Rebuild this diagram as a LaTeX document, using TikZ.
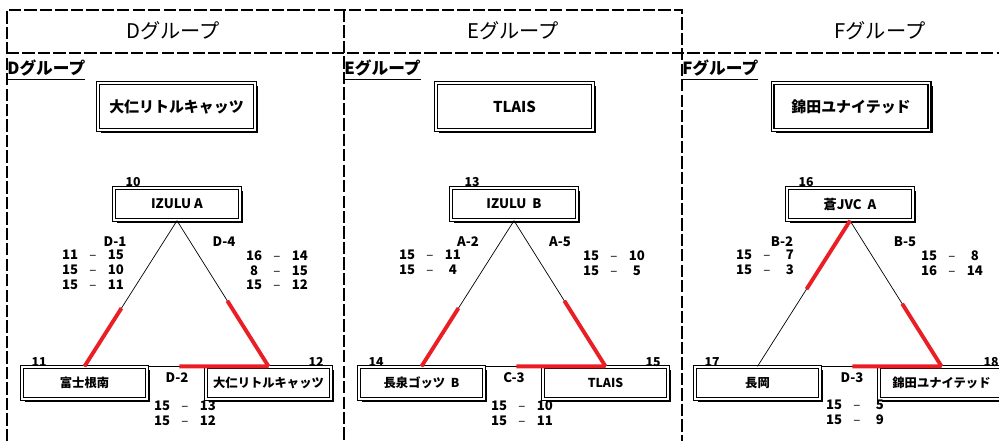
\documentclass[tikz,border=0pt]{standalone}
\usepackage{fontspec}
\setmainfont{Noto Sans CJK JP}
\usetikzlibrary{calc,shadows}
\definecolor{winred}{RGB}{234,30,37}
\tikzset{
  line cap=round,
  line join=round,
  frame/.style={line width=1.2pt, dash pattern=on 7pt off 1.8pt, line cap=butt},
  bighead/.style={font=\fontsize{11.5}{13}\selectfont, inner sep=0pt},
  subhead/.style={font=\bfseries\fontsize{9.5}{11}\selectfont, anchor=west, inner sep=0pt},
  teambox/.style={draw, fill=white, line width=0.75pt, double distance=0.8pt, inner sep=0pt,
    general shadow={fill=black, shadow xshift=1.9pt, shadow yshift=-1.9pt}},
  seedbox/.style={teambox, minimum width=3.14cm, minimum height=0.94cm, font=\bfseries\fontsize{8.5}{10}\selectfont},
  topbox/.style={teambox, minimum width=2.52cm, minimum height=0.64cm, font=\bfseries\fontsize{7.5}{9}\selectfont},
  botbox/.style={teambox, minimum width=2.5cm, minimum height=0.64cm, font=\bfseries\fontsize{7}{8}\selectfont},
  num/.style={font=\bfseries\fontsize{7}{8}\selectfont, inner sep=0pt},
  match/.style={font=\bfseries\fontsize{7.5}{8}\selectfont, inner sep=0pt},
  scores/.style={font=\bfseries\fontsize{7.5}{8.5}\selectfont, align=center, inner sep=0pt, anchor=north},
  edge/.style={line width=0.4pt},
  bar/.style={line width=0.9pt},
  win/.style={draw=winred, line width=2.2pt, line cap=butt}
}
\newcommand{\scoreline}[2]{\makebox[13pt]{#1}\makebox[13pt]{\mdseries –}\makebox[13pt]{#2}}

\begin{document}
\begin{tikzpicture}[x=0.02cm, y=-0.02cm]
    \useasboundingbox (0,0) rectangle (999,441);

    % 枠線
    \draw[frame] (7,441) -- (7,10) -- (682,10) -- (682,441);
    \draw[frame] (344,10) -- (344,441);
    \draw[frame] (7,53) -- (999,53);

    % 見出し
    \node[bighead] (hD) at (173,31) {Dグループ};
    \node[bighead] (hE) at (513,31) {Eグループ};
    \node[bighead] (hF) at (880,31) {Fグループ};

    % Dグループ
    \begin{scope}
    \node[subhead] (subD) at (7,70) {\underline{Dグループ}};
    \node[seedbox] (seedD) at (176.5,106.5) {大仁リトルキャッツ};
    \node[topbox] (topD) at (177,204) {IZULU A};
    \node[botbox] (lboxD) at (84.5,383) {富士根南};
    \node[botbox] (rboxD) at (268.5,383) {大仁リトルキャッツ};
    \node[num] (n10) at (133,182) {10};
    \node[num] (n11) at (39,362) {11};
    \node[num] (n12) at (316,362) {12};
    \draw[edge] (topD.south) -- (lboxD.north);
    \draw[edge] (topD.south) -- (rboxD.north);
    \draw[bar] (lboxD.north east) -- (rboxD.north west);
    \draw[win] ($(topD.south)!0.6!(lboxD.north)$) -- (lboxD.north);
    \draw[win] ($(topD.south)!0.55!(rboxD.north)$) -- (rboxD.north);
    \draw[win] ($(lboxD.north east)!0.55!(rboxD.north west)$) -- (rboxD.north);
    \node[match] (mD1) at (115,242) {D-1};
    \node[match] (mD4) at (224,242) {D-4};
    \node[match] (mD2) at (177,378) {D-2};
    \node[scores] (sD1) at (93,250) {\scoreline{11}{15}\\\scoreline{15}{10}\\\scoreline{15}{11}};
    \node[scores] (sD4) at (277,250) {\scoreline{16}{14}\\\scoreline{8}{15}\\\scoreline{15}{12}};
    \node[scores] (sD2) at (185,400) {\scoreline{15}{13}\\\scoreline{15}{12}};
    \end{scope}

    % Eグループ
    \begin{scope}[shift={(337,0)}]
    \node[subhead] (subE) at (7,70) {\underline{Eグループ}};
    \node[seedbox] (seedE) at (177.5,106.5) {TLAIS};
    \node[topbox] (topE) at (177,204) {IZULU\ \ B};
    \node[botbox] (lboxE) at (84.5,383) {長泉ゴッツ\ \ B};
    \node[botbox] (rboxE) at (268.5,383) {TLAIS};
    \node[num] (n13) at (135,182) {13};
    \node[num] (n14) at (39,362) {14};
    \node[num] (n15) at (316,362) {15};
    \draw[edge] (topE.south) -- (lboxE.north);
    \draw[edge] (topE.south) -- (rboxE.north);
    \draw[bar] (lboxE.north east) -- (rboxE.north west);
    \draw[win] ($(topE.south)!0.6!(lboxE.north)$) -- (lboxE.north);
    \draw[win] ($(topE.south)!0.55!(rboxE.north)$) -- (rboxE.north);
    \draw[win] ($(lboxE.north east)!0.55!(rboxE.north west)$) -- (rboxE.north);
    \node[match] (mA2) at (131,242) {A-2};
    \node[match] (mA5) at (223,242) {A-5};
    \node[match] (mC3) at (177,378) {C-3};
    \node[scores] (sA2) at (93,250) {\scoreline{15}{11}\\\scoreline{15}{4}};
    \node[scores] (sA5) at (277,250) {\scoreline{15}{10}\\\scoreline{15}{5}};
    \node[scores] (sC3) at (185,400) {\scoreline{15}{10}\\\scoreline{15}{11}};
    \end{scope}

    % Fグループ
    \begin{scope}[shift={(673,0)}]
    \node[subhead] (subF) at (9,70) {\underline{Fグループ}};
    \node[seedbox] (seedF) at (178,106.5) {錦田ユナイテッド};
    \node[topbox] (topF) at (177,204) {蒼JVC\ \ A};
    \node[botbox] (lboxF) at (84.5,383) {長岡};
    \node[botbox] (rboxF) at (268.5,383) {錦田ユナイテッド};
    \node[num] (n16) at (133,182) {16};
    \node[num] (n17) at (39,362) {17};
    \node[num] (n18) at (318,362) {18};
    \draw[edge] (topF.south) -- (lboxF.north);
    \draw[edge] (topF.south) -- (rboxF.north);
    \draw[bar] (lboxF.north east) -- (rboxF.north west);
    \draw[win] (topF.south) -- ($(topF.south)!0.47!(lboxF.north)$);
    \draw[win] ($(topF.south)!0.57!(rboxF.north)$) -- (rboxF.north);
    \draw[win] ($(lboxF.north east)!0.55!(rboxF.north west)$) -- (rboxF.north);
    \node[match] (mB2) at (109,242) {B-2};
    \node[match] (mB5) at (232,242) {B-5};
    \node[match] (mD3) at (179,378) {D-3};
    \node[scores] (sB2) at (94,250) {\scoreline{15}{7}\\\scoreline{15}{3}};
    \node[scores] (sB5) at (279,250) {\scoreline{15}{8}\\\scoreline{16}{14}};
    \node[scores] (sD3) at (184,400) {\scoreline{15}{5}\\\scoreline{15}{9}};
    \end{scope}
\end{tikzpicture}
\end{document}
